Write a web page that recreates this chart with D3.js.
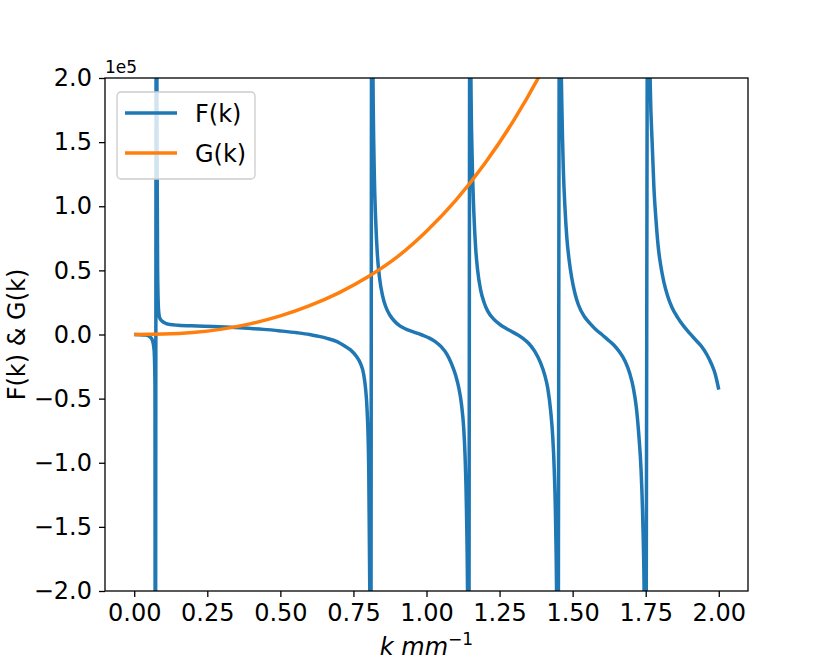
<!DOCTYPE html>
<html>
<head>
<meta charset="utf-8">
<script src="https://cdn.jsdelivr.net/npm/d3@7"></script>
<style>
  body { margin: 0; background: #fff; }
  text { font-family: "DejaVu Sans", sans-serif; }
</style>
</head>
<body>
<div id="chart"></div>
<script>
// values, in units of 1e5
const kF = [0, 0.02, 0.04, 0.055, 0.063, 0.068, 0.071, 0.072,
  0.076, 0.078, 0.08, 0.083, 0.087, 0.095, 0.11, 0.123, 0.15, 0.215, 0.27, 0.33, 0.39, 0.443, 0.5, 0.557, 0.6, 0.626, 0.66, 0.694, 0.72, 0.74, 0.76, 0.774, 0.785, 0.791, 0.797, 0.802, 0.806, 0.809,
  0.813, 0.817, 0.821, 0.826, 0.832, 0.84, 0.85, 0.86, 0.875, 0.89, 0.91, 0.93, 0.95, 0.97, 0.99, 1.01, 1.03, 1.05, 1.07, 1.085, 1.1, 1.11, 1.12, 1.127, 1.132, 1.137, 1.141, 1.144,
  1.149, 1.152, 1.156, 1.162, 1.168, 1.175, 1.185, 1.197, 1.21, 1.23, 1.25, 1.27, 1.29, 1.31, 1.33, 1.35, 1.37, 1.39, 1.405, 1.415, 1.425, 1.432, 1.437, 1.442, 1.446, 1.449,
  1.456, 1.459, 1.463, 1.468, 1.474, 1.48, 1.488, 1.497, 1.508, 1.52, 1.54, 1.56, 1.58, 1.6, 1.62, 1.64, 1.66, 1.68, 1.695, 1.708, 1.718, 1.727, 1.734, 1.74, 1.745, 1.749,
  1.758, 1.762, 1.766, 1.772, 1.778, 1.785, 1.793, 1.802, 1.812, 1.825, 1.84, 1.86, 1.88, 1.9, 1.92, 1.94, 1.96, 1.975, 1.988, 2.0];
const fValues = [0, -0.001, -0.005, -0.02, -0.05, -0.12, -0.4, -4,
  4, 1.5, 0.5, 0.2, 0.13, 0.105, 0.085, 0.078, 0.072, 0.066, 0.062, 0.056, 0.048, 0.04, 0.028, 0.014, 0.0, -0.012, -0.03, -0.056, -0.09, -0.12, -0.17, -0.225, -0.31, -0.41, -0.6, -1.0, -2.0, -4,
  4, 2.0, 1.3, 0.9, 0.62, 0.43, 0.30, 0.22, 0.15, 0.105, 0.065, 0.042, 0.025, 0.008, -0.008, -0.028, -0.055, -0.095, -0.155, -0.225, -0.32, -0.41, -0.55, -0.72, -0.95, -1.4, -2.2, -4,
  4, 2.0, 1.4, 0.95, 0.68, 0.5, 0.35, 0.25, 0.18, 0.12, 0.08, 0.05, 0.025, 0.0, -0.03, -0.07, -0.13, -0.22, -0.32, -0.42, -0.6, -0.8, -1.05, -1.5, -2.3, -4,
  4, 2.5, 1.8, 1.3, 0.98, 0.76, 0.58, 0.44, 0.32, 0.23, 0.14, 0.085, 0.037, 0.0, -0.04, -0.08, -0.135, -0.21, -0.3, -0.42, -0.57, -0.8, -1.05, -1.45, -2.1, -4,
  4, 2.5, 1.9, 1.5, 1.15, 0.9, 0.68, 0.53, 0.41, 0.3, 0.21, 0.13, 0.065, 0.01, -0.04, -0.09, -0.16, -0.23, -0.31, -0.43];

const kG = [0, 0.1, 0.2, 0.3, 0.4, 0.5, 0.6, 0.7, 0.8, 0.9, 1.0, 1.1, 1.2, 1.3, 1.4, 1.45];
const gValues = [0, 0.003, 0.015, 0.042, 0.085, 0.145, 0.225, 0.325, 0.45, 0.605, 0.805, 1.045, 1.335, 1.675, 2.075, 2.3];

const xTicks = [0, 0.25, 0.5, 0.75, 1.0, 1.25, 1.5, 1.75, 2.0];
const yTicks = [-2.0, -1.5, -1.0, -0.5, 0.0, 0.5, 1.0, 1.5, 2.0];
const seriesNames = ["F(k)", "G(k)"];
const seriesColors = ["#1f77b4", "#ff7f0e"];

const W = 830, H = 664;
const M = { left: 105, top: 78, right: 82, bottom: 73 };
const innerW = W - M.left - M.right;
const innerH = H - M.top - M.bottom;

const svg = d3.select("#chart").append("svg")
  .attr("width", W).attr("height", H);

const g = svg.append("g").attr("transform", `translate(${M.left},${M.top})`);

const x = d3.scaleLinear().domain([-0.1, 2.1]).range([0, innerW]);
const y = d3.scaleLinear().domain([-2, 2]).range([innerH, 0]);

g.append("clipPath").attr("id", "plot-clip")
  .append("rect").attr("width", innerW).attr("height", innerH);

const line = d3.line()
  .x(d => x(d[0]))
  .y(d => y(d[1]))
  .curve(d3.curveMonotoneX);

const fData = kF.map((k, i) => [k, fValues[i]]);
const gData = kG.map((k, i) => [k, gValues[i]]);

const plot = g.append("g").attr("clip-path", "url(#plot-clip)");
[fData, gData].forEach((data, i) => {
  plot.append("path")
    .datum(data)
    .attr("fill", "none")
    .attr("stroke", seriesColors[i])
    .attr("stroke-width", 3.5)
    .attr("stroke-linejoin", "round")
    .attr("d", line);
});

// axes
const xAxis = g.append("g")
  .attr("transform", `translate(0,${innerH})`)
  .call(d3.axisBottom(x).tickValues(xTicks).tickFormat(d3.format(".2f")).tickSize(6).tickPadding(7));
const yAxis = g.append("g")
  .call(d3.axisLeft(y).tickValues(yTicks).tickFormat(d3.format(".1f")).tickSize(6).tickPadding(7));

[xAxis, yAxis].forEach(a => {
  a.select(".domain").remove();
  a.selectAll(".tick line").attr("stroke", "#000").attr("stroke-width", 1.3);
  a.selectAll(".tick text")
    .attr("fill", "#000")
    .style("font-size", "24px")
    .style("font-family", "DejaVu Sans");
});

g.append("rect")
  .attr("width", innerW).attr("height", innerH)
  .attr("fill", "none").attr("stroke", "#000").attr("stroke-width", 1.3);

// offset text
g.append("text")
  .attr("x", 0).attr("y", -5)
  .attr("font-size", "17px")
  .text("1e5");

// axis labels
const xl = svg.append("text")
  .attr("x", M.left + innerW / 2)
  .attr("y", 655)
  .attr("text-anchor", "middle")
  .attr("font-size", "24px");
xl.append("tspan").attr("font-style", "italic").text("k mm");
xl.append("tspan").attr("font-style", "normal").attr("font-size", "17px").attr("dy", -10).text("−1");

svg.append("text")
  .attr("transform", `translate(25,${M.top + innerH / 2}) rotate(-90)`)
  .attr("text-anchor", "middle")
  .attr("font-size", "24px")
  .text("F(k) & G(k)");

// legend
const lg = g.append("g").attr("transform", `translate(${117 - M.left},${92 - M.top})`);
lg.append("rect")
  .attr("width", 138).attr("height", 87)
  .attr("rx", 4)
  .attr("fill", "#fff").attr("fill-opacity", 0.8)
  .attr("stroke", "#cccccc").attr("stroke-width", 1.3);
seriesNames.forEach((name, i) => {
  const ly = 21 + i * 40;
  lg.append("line")
    .attr("x1", 8).attr("x2", 60)
    .attr("y1", ly).attr("y2", ly)
    .attr("stroke", seriesColors[i]).attr("stroke-width", 3.5);
  lg.append("text")
    .attr("x", 78).attr("y", ly + 9)
    .attr("font-size", "24px")
    .text(name);
});
</script>
</body>
</html>
